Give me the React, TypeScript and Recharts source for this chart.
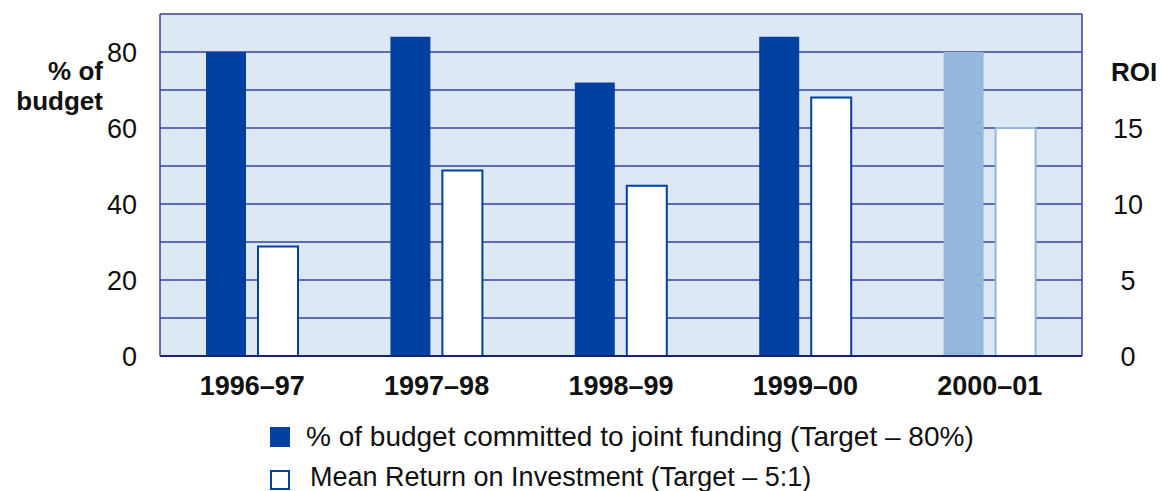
import { BarChart, Bar, XAxis, YAxis, CartesianGrid, Cell } from "recharts";

const years = ["1996–97", "1997–98", "1998–99", "1999–00", "2000–01"];
const budgetPct = [80, 84, 72, 84, 80];
const meanRoi = [7.2, 12.2, 11.2, 17, 15];
const pctTicks = [0, 20, 40, 60, 80];
const roiTicks = [0, 5, 10, 15];
const gridLines = [0, 10, 20, 30, 40, 50, 60, 70, 80, 90];
const forecastYear = "2000–01";

const data = years.map((y, i) => ({ year: y, budget: budgetPct[i], roi: meanRoi[i] }));

const DARK = "#0040a0";
const LIGHT = "#93b8dc";
const GRID = "#3b3f9c";
const FONT = "'Liberation Sans', Arial, sans-serif";

function RoiTick(p: any) {
  return (
    <text x={p.x} y={p.y} dy="0.36em" textAnchor="middle" fontSize={27} fill="#111" fontFamily={FONT}>
      {p.payload.value}
    </text>
  );
}

const titleStyle = {
  position: "absolute" as const,
  right: 1058,
  textAlign: "right" as const,
  fontWeight: "bold" as const,
  fontSize: 26,
  lineHeight: "26px",
  color: "#111",
  whiteSpace: "nowrap" as const,
};

export default function App() {
  return (
    <div style={{ position: "absolute", left: 0, top: 0, width: 1161, height: 491, background: "#fff", fontFamily: FONT, overflow: "hidden" }}>
      <BarChart
        width={1161}
        height={400}
        data={data}
        margin={{ top: 14, right: 0, left: 0, bottom: 0 }}
        barCategoryGap="25%"
        barGap={12}
      >
        <CartesianGrid
          yAxisId="pct"
          vertical={false}
          horizontalValues={gridLines}
          stroke={GRID}
          strokeWidth={1.5}
          fill="#dce8f4"
          fillOpacity={1}
        />
        <XAxis
          dataKey="year"
          tickSize={0}
          tickMargin={20}
          height={44}
          axisLine={{ stroke: "#1a2270", strokeWidth: 2 }}
          tick={{ fontSize: 27, fontWeight: "bold", fill: "#111", fontFamily: FONT }}
        />
        <YAxis
          yAxisId="pct"
          orientation="left"
          domain={[0, 90]}
          ticks={pctTicks}
          width={160}
          tickSize={0}
          tickMargin={23}
          axisLine={{ stroke: GRID, strokeWidth: 1.5 }}
          tick={{ fontSize: 27, fill: "#111", fontFamily: FONT }}
        />
        <YAxis
          yAxisId="roi"
          orientation="right"
          domain={[0, 22.5]}
          ticks={roiTicks}
          width={79}
          tickSize={0}
          tickMargin={46}
          axisLine={{ stroke: GRID, strokeWidth: 1.5 }}
          tick={<RoiTick />}
        />
        <Bar yAxisId="pct" dataKey="budget" barSize={40} fill={DARK} isAnimationActive={false}>
          {data.map((d) => (
            <Cell key={d.year} fill={d.year === forecastYear ? LIGHT : DARK} />
          ))}
        </Bar>
        <Bar yAxisId="roi" dataKey="roi" barSize={40} fill="#fff" stroke={DARK} strokeWidth={2} isAnimationActive={false}>
          {data.map((d) => (
            <Cell key={d.year} fill="#fff" stroke={d.year === forecastYear ? LIGHT : DARK} />
          ))}
        </Bar>
      </BarChart>

      <div style={{ ...titleStyle, top: 58 }}>% of</div>
      <div style={{ ...titleStyle, top: 88 }}>budget</div>
      <div style={{ position: "absolute", left: 1111, top: 57, fontWeight: "bold", fontSize: 26, lineHeight: "30px", color: "#111" }}>ROI</div>

      <div style={{ position: "absolute", left: 270, top: 427, width: 20, height: 20, background: DARK }} />
      <div style={{ position: "absolute", left: 306, top: 423, fontSize: 28, lineHeight: "28px", color: "#111", whiteSpace: "nowrap" }}>
        % of budget committed to joint funding (Target – 80%)
      </div>
      <div style={{ position: "absolute", left: 270, top: 470, width: 16, height: 16, border: `2px solid ${DARK}`, background: "#fff" }} />
      <div style={{ position: "absolute", left: 310, top: 464, fontSize: 27, lineHeight: "26px", color: "#111", whiteSpace: "nowrap" }}>
        Mean Return on Investment (Target – 5:1)
      </div>
    </div>
  );
}
